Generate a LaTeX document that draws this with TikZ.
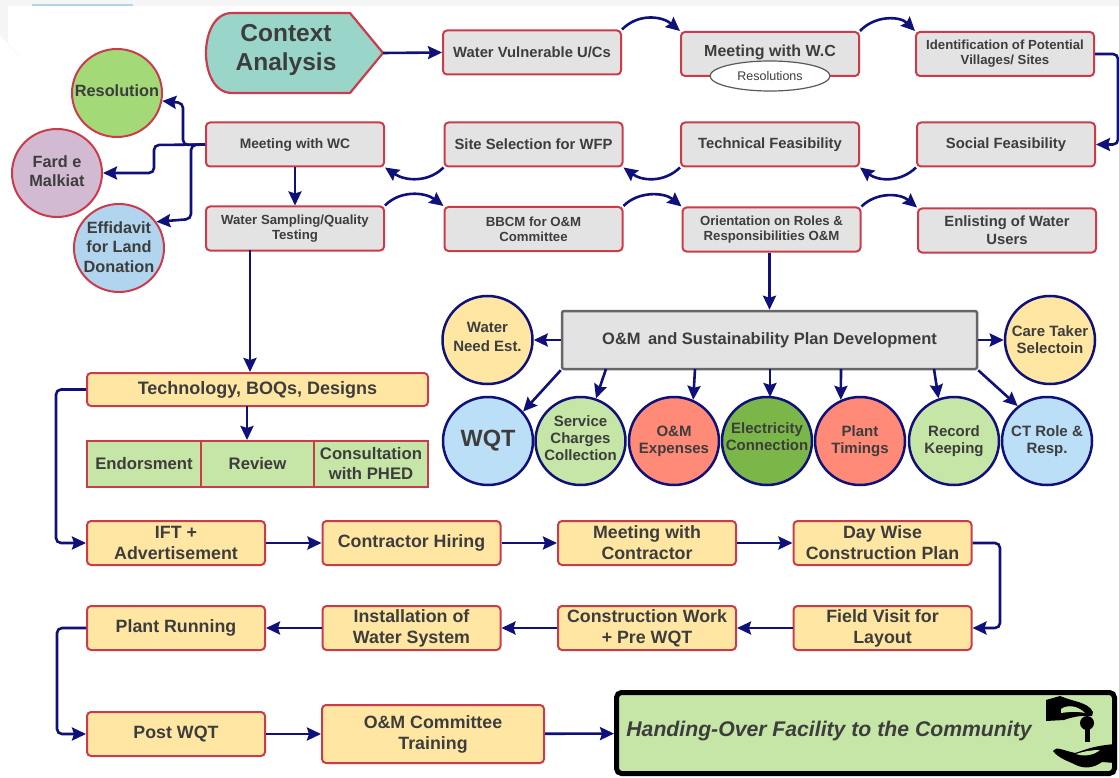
\documentclass[tikz,border=0pt]{standalone}
\usepackage{fontspec}
\setmainfont{Liberation Sans}
\usetikzlibrary{arrows.meta}
\usetikzlibrary{shapes.geometric}
\definecolor{flowred}{HTML}{CC3B4A}
\definecolor{flownavy}{HTML}{10107A}
\definecolor{boxgrey}{HTML}{E3E3E3}
\definecolor{boxyellow}{HTML}{FFE7A3}
\definecolor{boxgreen}{HTML}{C5E6A6}
\definecolor{boxteal}{HTML}{99D6C9}
\definecolor{boxblue}{HTML}{BBDFF7}
\definecolor{boxsalmon}{HTML}{FF8A78}
\definecolor{boxlime}{HTML}{A3D977}
\definecolor{boxleaf}{HTML}{7AB648}
\definecolor{boxmauve}{HTML}{D2BAD2}
\definecolor{boxsky}{HTML}{B1D5EF}
\definecolor{inktext}{HTML}{3D3D3D}
\tikzset{
    basebox/.style={rectangle, rounded corners=4pt, draw=flowred, line width=2pt, align=center, inner sep=0pt, text=inktext, font=\bfseries\fontsize{14.8}{18}\selectfont},
    greybox/.style={basebox, fill=boxgrey, minimum width=178pt, minimum height=44pt},
    smallbox/.style={greybox, font=\bfseries\fontsize{13.2}{15}\selectfont},
    yellowbox/.style={basebox, fill=boxyellow, minimum width=178pt, minimum height=44pt, font=\bfseries\fontsize{17.8}{21}\selectfont},
    tablebox/.style={basebox, rounded corners=0pt, fill=boxgreen, minimum height=46pt, font=\bfseries\fontsize{16.7}{20}\selectfont},
    redcircle/.style={ellipse, draw=flowred, line width=2pt, align=center, inner sep=-14pt, minimum width=90pt, minimum height=88pt, text=inktext, font=\bfseries\fontsize{16.3}{19.5}\selectfont},
    navycircle/.style={ellipse, draw=flownavy, line width=2.5pt, align=center, inner sep=-14pt, minimum width=90pt, minimum height=88pt, text=inktext, font=\bfseries\fontsize{15}{17}\selectfont},
    flow/.style={draw=flownavy, line width=2.6pt, rounded corners=5pt},
    arc/.style={draw=flownavy, line width=2.6pt}
}
\begin{document}
\begin{tikzpicture}[x=1pt, y=-1pt, >={Stealth[length=14pt,width=13pt,inset=2pt]}, node distance=235.5pt]
    \useasboundingbox (0,0) rectangle (1119,778);
    % screenshot edge
    \fill [black!4] (0,0) -- (1119,0) -- (1119,6) -- (8,6) -- (8,45) -- (25,62) -- (0,35) -- cycle;
    \fill [boxsky] (32,4) rectangle (133,6);

    % top rows
    \draw [fill=boxteal, draw=flowred, line width=2.2pt, line join=round] (350,13) -- (383,53) -- (350,93) -- (232,93) .. controls (214,93) and (206,72) .. (206,53) .. controls (206,34) and (214,13) .. (232,13) -- cycle;
    \node (context) [align=center, text=inktext, font=\bfseries\fontsize{24.5}{29}\selectfont] at (286,50) {Context\\Analysis};
    \coordinate (contexttip) at (383,53);

    \node (vulnerable) [greybox] at (532,52.5) {Water Vulnerable U/Cs};
    \node (meetwc) [greybox, font=\bfseries\fontsize{16}{18}\selectfont] at (770,54) {Meeting with W.C\\[-10.5pt]\mbox{}};
    \node (resolutions) [ellipse, draw=black!65, line width=1.2pt, fill=white, minimum width=120pt, minimum height=30pt, inner sep=-6pt, text=inktext, font=\fontsize{12.5}{14}\selectfont] at (770,76) {Resolutions};
    \node (identify) [smallbox] at (1005,54) {Identification of Potential\\Villages/ Sites};

    \node (meetingwc) [greybox, font=\bfseries\fontsize{13.8}{18}\selectfont] at (295,144.5) {Meeting with WC};
    \node (site) [greybox] at (533.5,144.5) {Site Selection for WFP};
    \node (technical) [greybox] at (770,144.5) {Technical Feasibility};
    \node (social) [greybox] at (1006,144.5) {Social Feasibility};

    \node (sampling) [smallbox] at (295,228.5) {Water Sampling/Quality\\Testing};
    \node (bbcm) [smallbox] at (533.5,229) {BBCM for O\&M\\Committee};
    \node (orientation) [smallbox] at (771.5,229.5) {Orientation on Roles \&\\Responsibilities O\&M};
    \node (enlisting) [greybox] at (1007,230.5) {Enlisting of Water\\Users};

    % left circles
    \node (resolution) [redcircle, fill=boxlime] at (117,93) {Resolution\\[-15.5pt]\mbox{}};
    \node (fard) [redcircle, fill=boxmauve] at (57,173) {Fard e\\Malkiat\\[-15.5pt]\mbox{}};
    \node (effidavit) [redcircle, fill=boxsky] at (119,248) {Effidavit\\for Land\\Donation\\[-17.5pt]\mbox{}};

    % plan
    \node (plan) [rectangle, rounded corners=2pt, draw=black!60, line width=2.5pt, fill=boxgrey, minimum width=415pt, minimum height=58pt, text=inktext, font=\bfseries\fontsize{16.5}{19}\selectfont] at (769.5,340) {O\&M\, and Sustainability Plan Development};
    \node (need) [navycircle, fill=boxyellow, font=\bfseries\fontsize{15}{19}\selectfont] at (487.5,340) {Water\\Need Est.\\[-13.5pt]\mbox{}};
    \node (caretaker) [navycircle, fill=boxyellow] at (1050,340) {Care Taker\\Selectoin};
    \node (wqt) [navycircle, fill=boxblue, font=\bfseries\fontsize{23.5}{28}\selectfont] at (488,441) {WQT};
    \node (charges) [navycircle, fill=boxgreen] at (580.5,441) {Service\\Charges\\Collection\\[-11pt]\mbox{}};
    \node (expenses) [navycircle, fill=boxsalmon] at (674,441) {O\&M\\Expenses};
    \node (electricity) [navycircle, fill=boxleaf] at (767,441) {Electricity\\Connection\\[-7.5pt]\mbox{}};
    \node (timings) [navycircle, fill=boxsalmon] at (860,441) {Plant\\Timings};
    \node (record) [navycircle, fill=boxgreen] at (954,441) {Record\\Keeping};
    \node (ctrole) [navycircle, fill=boxblue] at (1047,441) {CT Role \&\\Resp.};

    % design
    \node (tech) [basebox, fill=boxyellow, minimum width=341pt, minimum height=33pt, font=\bfseries\fontsize{18}{20}\selectfont] at (257.5,389.5) {Technology, BOQs, Designs};
    \node (endorse) [tablebox, minimum width=114pt] at (144,464) {Endorsment};
    \node (review) [tablebox, minimum width=113pt] at (257.5,464) {Review};
    \node (phed) [tablebox, minimum width=114pt] at (371,464) {Consultation\\with PHED};

    % construction rows
    \node (ift) [yellowbox] at (176,543) {IFT +\\Advertisement};
    \node (hiring) [yellowbox, right of=ift] {Contractor Hiring};
    \node (contractor) [yellowbox, right of=hiring] {Meeting with\\Contractor};
    \node (daywise) [yellowbox, right of=contractor] {Day Wise\\Construction Plan};
    \node (running) [yellowbox] at (176,628) {Plant Running};
    \node (install) [yellowbox, right of=running] {Installation of\\Water System};
    \node (works) [yellowbox, right of=install] {Construction Work\\+ Pre WQT};
    \node (field) [yellowbox, right of=works] {Field Visit for\\Layout};
    \node (post) [yellowbox] at (176,734) {Post WQT};
    \node (training) [yellowbox, minimum width=222pt, minimum height=58pt] at (433,734) {O\&M Committee\\Training};

    % handover
    \node (handover) [rectangle, rounded corners=5pt, draw=black, line width=5pt, fill=boxgreen, minimum width=498pt, minimum height=81pt] at (865.5,733) {};
    \node (handtext) [text=inktext, font=\bfseries\itshape\fontsize{21.2}{24}\selectfont] at (829,731) {Handing-Over Facility to the Community};
    \fill [black] (1046,721) -- (1046,700) -- (1060,696) .. controls (1074,702) and (1088,702) .. (1093,712) -- (1092,716) .. controls (1082,715) and (1072,717) .. (1064,720) -- cycle;
    \fill [boxgreen] (1061,709) .. controls (1068,704) and (1078,706) .. (1085,713) .. controls (1076,711) and (1068,712) .. (1061,713) -- cycle;
    \fill [black] (1087,723) circle [radius=7];
    \fill [black] (1084.5,726) rectangle (1090,742);
    \fill [black] (1053,751) .. controls (1056,746) and (1062,750) .. (1075,753) .. controls (1085,750) and (1092,746) .. (1115,744) -- (1115,763) -- (1102,762) .. controls (1094,768) and (1084,769) .. (1076,765) .. controls (1068,761) and (1058,758) .. (1053,751) -- cycle;
    \fill [boxgreen] (1076,754) .. controls (1085,751) and (1092,750) .. (1100,750) .. controls (1094,755) and (1085,757) .. (1076,754) -- cycle;

    % curved arrows
    \draw [->, arc] (vulnerable.north east) .. controls (638,13) and (662,16) .. (meetwc.north west);
    \draw [->, arc] (meetwc.north east) .. controls (875,15) and (900,16) .. (identify.north west);
    \draw [->, arc] (social.south west) .. controls (900,183) and (878,181) .. (technical.south east);
    \draw [->, arc] (technical.south west) .. controls (664,183) and (642,181) .. (site.south east);
    \draw [->, arc] (site.south west) .. controls (428,183) and (405,181) .. (meetingwc.south east);
    \draw [->, arc] (sampling.north east) .. controls (400,190) and (425,192) .. (bbcm.north west);
    \draw [->, arc] (bbcm.north east) .. controls (638,191) and (664,192) .. (orientation.north west);
    \draw [->, arc] (orientation.north east) .. controls (876,192) and (900,193) .. (enlisting.north west);

    % straight arrows
    \draw [->, flow] (contexttip) -- (vulnerable.west);
    \draw [->, flow] (identify.east) -- (1118,54) -- (1118,144.5) -- (social.east);
    \draw [->, flow] (meetingwc.south) -- (sampling.north);
    \draw [->, flow] (meetingwc.west) -- (183,145) -- (183,103) -- (resolution.-10);
    \draw [->, flow] (meetingwc.west) -- (154,145) -- (154,173) -- (fard.east);
    \draw [->, flow] (meetingwc.west) -- (191,145) -- (191,219) -- (effidavit.35);
    \draw [->, flow] (orientation.south -| plan.north) -- (plan.north);
    \coordinate (samplingout) at (250,250);
    \draw [->, flow] (samplingout) -- (tech.north -| samplingout);
    \coordinate (techout) at (247,406);
    \draw [->, flow] (techout) -- (review.north -| techout);

    \draw [->, flow] (plan.west) -- (need.east);
    \draw [->, flow] (plan.east) -- (caretaker.west);
    \draw [->, flow] (plan.south west) -- (wqt.40);
    \draw [->, flow] (606,369) -- (charges.70);
    \draw [->, flow] (695,369) -- (expenses.65);
    \draw [->, flow] (770,369) -- (770,397);
    \draw [->, flow] (841,369) -- (timings.115);
    \draw [->, flow] (934,369) -- (record.110);
    \draw [->, flow] (plan.south east) -- (ctrole.130);

    \draw [->, flow] (tech.west) -- (56,389.5) -- (56,543) -- (ift.west);
    \draw [->, flow] (ift) -- (hiring);
    \draw [->, flow] (hiring) -- (contractor);
    \draw [->, flow] (contractor) -- (daywise);
    \draw [->, flow] (daywise.east) -- (1000,543) -- (1000,628) -- (field.east);
    \draw [->, flow] (field) -- (works);
    \draw [->, flow] (works) -- (install);
    \draw [->, flow] (install) -- (running);
    \draw [->, flow] (running.west) -- (57,628) -- (57,734) -- (post.west);
    \draw [->, flow] (post) -- (training);
    \draw [->, flow] (training) -- (handover);
\end{tikzpicture}
\end{document}
